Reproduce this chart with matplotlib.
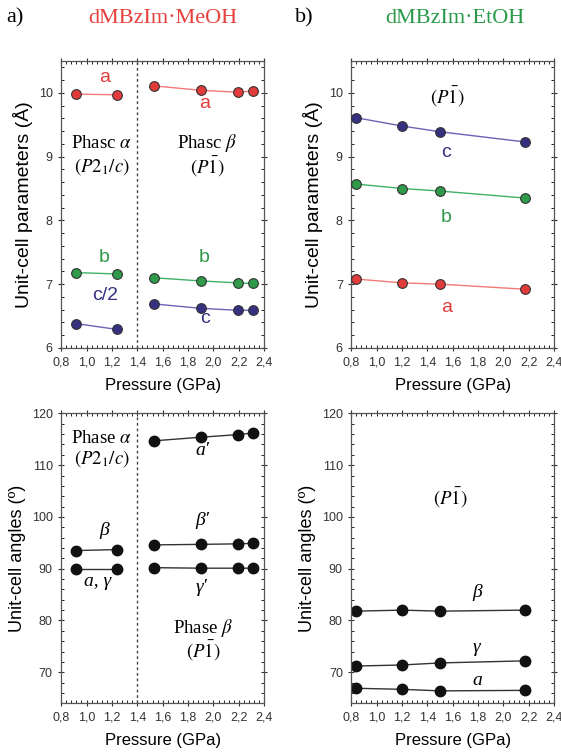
import numpy as np
import matplotlib.pyplot as plt
from matplotlib.ticker import MultipleLocator, FuncFormatter

plt.rcParams['font.family'] = ['Liberation Sans', 'DejaVu Sans']
plt.rcParams['mathtext.fontset'] = 'stix'

# dMBzIm.MeOH, phase alpha and phase beta
p_alpha = [0.92, 1.24]
p_beta = [1.53, 1.90, 2.19, 2.31]
a_alpha = [9.98, 9.97]
b_alpha = [7.18, 7.16]
c2_alpha = [6.38, 6.29]
a_beta = [10.11, 10.04, 10.01, 10.03]
b_beta = [7.10, 7.05, 7.02, 7.01]
c_beta = [6.69, 6.62, 6.59, 6.59]
beta_alpha = [93.5, 93.7]
ag_alpha = [90.0, 90.0]
alpha_p = [114.7, 115.4, 115.9, 116.2]
beta_p = [94.6, 94.7, 94.8, 94.9]
gamma_p = [90.2, 90.1, 90.1, 90.1]

# dMBzIm.EtOH
p_et = [0.84, 1.20, 1.50, 2.17]
a_et = [7.08, 7.02, 7.00, 6.92]
b_et = [8.57, 8.50, 8.46, 8.35]
c_et = [9.61, 9.48, 9.39, 9.23]
alpha_et = [66.9, 66.7, 66.4, 66.5]
beta_et = [81.8, 82.0, 81.8, 82.0]
gamma_et = [71.2, 71.4, 71.8, 72.2]

RED, RED_L = '#e23b3b', '#f07a78'
GRN, GRN_L = '#2e9a4a', '#3fb266'
PUR, PUR_L = '#35307f', '#6b63b3'
SERIF = ['Liberation Serif', 'DejaVu Serif']
P1 = r'$(P\mathrm{\bar{1}})$'

fig = plt.figure(figsize=(5.61, 7.53), dpi=100)
ax1 = fig.add_axes([0.109, 0.538, 0.362, 0.381])
ax2 = fig.add_axes([0.626, 0.538, 0.362, 0.381])
ax3 = fig.add_axes([0.109, 0.066, 0.362, 0.385])
ax4 = fig.add_axes([0.626, 0.066, 0.362, 0.385])

comma = FuncFormatter(lambda v, pos: ('%.1f' % v).replace('.', ','))


def style(ax, ylo, yhi, ymaj, ymin, ylabel, ysize):
    ax.set_xlim(0.8, 2.4)
    ax.set_ylim(ylo, yhi)
    ax.xaxis.set_major_locator(MultipleLocator(0.2))
    ax.xaxis.set_minor_locator(MultipleLocator(0.04))
    ax.xaxis.set_major_formatter(comma)
    ax.yaxis.set_major_locator(MultipleLocator(ymaj))
    ax.yaxis.set_minor_locator(MultipleLocator(ymin))
    ax.tick_params(which='major', direction='inout', length=5, width=0.8,
                   top=True, right=True, labelsize=9, colors='#333333')
    ax.tick_params(which='minor', direction='in', length=2.5, width=0.6,
                   top=True, right=True)
    for s in ax.spines.values():
        s.set_color('#555555')
        s.set_linewidth(0.9)
    ax.set_xlabel('Pressure (GPa)', fontsize=12, labelpad=7)
    ax.set_ylabel(ylabel, fontsize=ysize, labelpad=4)


def series(ax, x, y, fc, lc, ms=7):
    ax.plot(x, y, '-', color=lc, lw=1.0, zorder=2)
    ax.plot(x, y, 'o', ms=ms, mfc=fc, mec='#333333', mew=0.8, zorder=3)


def itl(ax, x, y, s, size=14):
    ax.text(x, y, s, fontsize=size, family=SERIF, style='italic',
            ha='center', va='center')


style(ax1, 6, 10.5, 1, 0.2, 'Unit-cell parameters (Å)', 14)
style(ax2, 6, 10.5, 1, 0.2, 'Unit-cell parameters (Å)', 14)
style(ax3, 64, 120, 10, 2, 'Unit-cell angles (º)', 13)
style(ax4, 64, 120, 10, 2, 'Unit-cell angles (º)', 13)

# top left
for x, y, fc, lc in [(p_alpha, a_alpha, RED, RED_L), (p_beta, a_beta, RED, RED_L),
                     (p_alpha, b_alpha, GRN, GRN_L), (p_beta, b_beta, GRN, GRN_L),
                     (p_alpha, c2_alpha, PUR, PUR_L), (p_beta, c_beta, PUR, PUR_L)]:
    series(ax1, x, y, fc, lc)
ax1.axvline(1.4, color='#444444', ls=(0, (2, 2)), lw=1.0)
ax1.text(1.14, 10.24, 'a', color=RED, fontsize=14, ha='center', va='center')
ax1.text(1.93, 9.84, 'a', color=RED, fontsize=14, ha='center', va='center')
ax1.text(1.14, 7.41, 'b', color=GRN, fontsize=14, ha='center', va='center')
ax1.text(1.93, 7.41, 'b', color=GRN, fontsize=14, ha='center', va='center')
ax1.text(1.15, 6.82, 'c/2', color=PUR, fontsize=14, ha='center', va='center')
ax1.text(1.93, 6.46, 'c', color=PUR, fontsize=14, ha='center', va='center')
ax1.text(1.12, 9.21, r'Phasc $\alpha$', fontsize=13.5, ha='center', va='center', family=SERIF)
ax1.text(1.12, 8.84, r'$(P2_1/c)$', fontsize=13.5, ha='center', va='center')
ax1.text(1.95, 9.21, r'Phasc $\beta$', fontsize=13.5, ha='center', va='center', family=SERIF)
ax1.text(1.95, 8.84, P1, fontsize=13.5, ha='center', va='center')

# top right
series(ax2, p_et, c_et, PUR, PUR_L)
series(ax2, p_et, b_et, GRN, GRN_L)
series(ax2, p_et, a_et, RED, RED_L)
ax2.text(1.56, 9.94, P1, fontsize=13.5, ha='center', va='center')
ax2.text(1.55, 9.07, 'c', color=PUR, fontsize=14, ha='center', va='center')
ax2.text(1.55, 8.05, 'b', color=GRN, fontsize=14, ha='center', va='center')
ax2.text(1.55, 6.64, 'a', color=RED, fontsize=14, ha='center', va='center')

# bottom left
K = '#111111'
for x, y in [(p_alpha, beta_alpha), (p_alpha, ag_alpha), (p_beta, alpha_p),
             (p_beta, beta_p), (p_beta, gamma_p)]:
    ax3.plot(x, y, '-', color='#333333', lw=1.0)
    ax3.plot(x, y, 'o', ms=7.5, color=K)
ax3.axvline(1.4, color='#444444', ls=(0, (2, 2)), lw=1.0)
ax3.text(1.12, 115.2, r'Phase $\alpha$', fontsize=13.5, ha='center', va='center', family=SERIF)
ax3.text(1.12, 111.3, r'$(P2_1/c)$', fontsize=13.5, ha='center', va='center')
itl(ax3, 1.14, 97.4, 'β')
itl(ax3, 1.09, 87.6, 'a, γ')
itl(ax3, 1.91, 112.9, 'a′')
itl(ax3, 1.91, 99.3, 'β′')
itl(ax3, 1.91, 86.4, 'γ′')
ax3.text(1.92, 78.5, r'Phase $\beta$', fontsize=13.5, ha='center', va='center', family=SERIF)
ax3.text(1.92, 74.2, P1, fontsize=13.5, ha='center', va='center')

# bottom right
for y in [beta_et, gamma_et, alpha_et]:
    ax4.plot(p_et, y, '-', color='#333333', lw=1.0)
    ax4.plot(p_et, y, 'o', ms=7.5, color=K)
ax4.text(1.58, 103.6, P1, fontsize=13.5, ha='center', va='center')
itl(ax4, 1.79, 85.4, 'β')
itl(ax4, 1.79, 74.8, 'γ')
itl(ax4, 1.79, 68.4, 'a')

# headers
fig.text(0.012, 0.976, 'a)', fontsize=16, family=SERIF, va='center')
fig.text(0.29, 0.976, 'dMBzIm·MeOH', fontsize=16, family=SERIF, color='#e8403c',
         ha='center', va='center')
fig.text(0.525, 0.976, 'b)', fontsize=16, family=SERIF, va='center')
fig.text(0.81, 0.976, 'dMBzIm·EtOH', fontsize=16, family=SERIF, color='#2a9a48',
         ha='center', va='center')

fig.savefig('out.png', dpi=100)
